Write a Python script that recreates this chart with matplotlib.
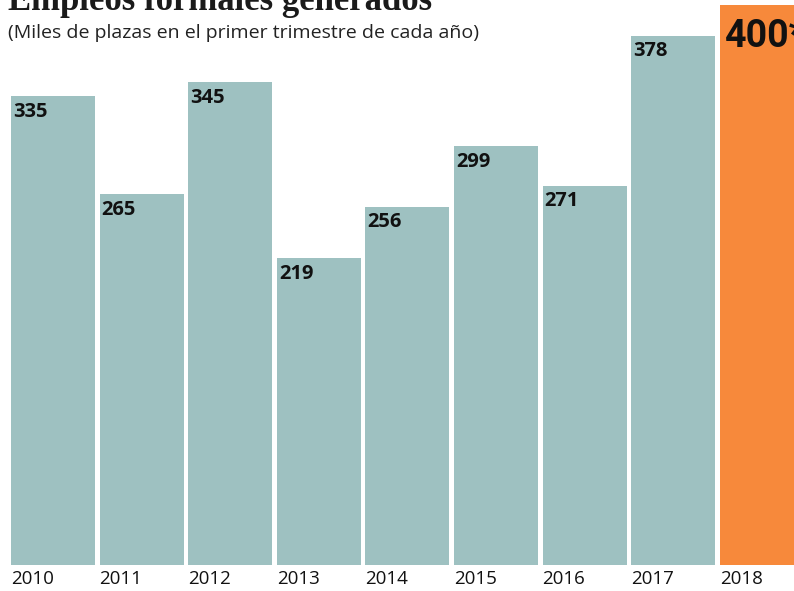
import matplotlib
matplotlib.use("Agg")
import matplotlib.pyplot as plt
from matplotlib import font_manager

# Datos
years = ["2010", "2011", "2012", "2013", "2014", "2015", "2016", "2017", "2018"]
values = [335, 265, 345, 219, 256, 299, 271, 378, 400]
labels = ["335", "265", "345", "219", "256", "299", "271", "378", "400*"]

teal = "#9ec1c1"
orange = "#f7893b"
colors = [teal] * 8 + [orange]

# fuente estrecha para el "400*" si existe
try:
    font_manager.findfont("Liberation Sans Narrow", fallback_to_default=False)
    big_family, big_size = "Liberation Sans Narrow", 31
except ValueError:
    big_family, big_size = "Roboto", 27

fig = plt.figure(figsize=(7.94, 5.91), dpi=100)
# ejes: de y=565 px (cero) hasta el borde superior
ax = fig.add_axes([0, 26 / 591, 1, 565 / 591])
ax.set_ylim(0, 403.6)
ax.set_xlim(-0.598, 8.363)

x = list(range(len(years)))
width = 0.95
ax.bar(x, values, width=width, color=colors, edgecolor="none")

for i, (v, lab) in enumerate(zip(values, labels)):
    left = i - width / 2
    if i == len(years) - 1:
        ax.annotate(lab, (left, v), xytext=(4, -9), textcoords="offset points",
                    ha="left", va="top", fontsize=big_size, fontweight="bold",
                    family=big_family, color="#111111")
    else:
        ax.annotate(lab, (left, v), xytext=(1.5, -4), textcoords="offset points",
                    ha="left", va="top", fontsize=14.5, fontweight="bold",
                    family="Open Sans", color="#111111")
    ax.text(left, -3.5, years[i], ha="left", va="top", fontsize=13.5,
            family="Open Sans", color="#111111")

for s in ax.spines.values():
    s.set_visible(False)
ax.set_xticks([])
ax.set_yticks([])

# título (cortado en la parte superior) y subtítulo
fig.text(8 / 794, 1 - 10 / 591, "Empleos formales generados", ha="left",
         va="baseline", fontsize=25, fontweight="bold", family="Liberation Serif",
         color="#1a1a1a")
fig.text(8 / 794, 1 - 33 / 591, "(Miles de plazas en el primer trimestre de cada año)",
         ha="left", va="center", fontsize=14, family="Open Sans", color="#222222")

fig.savefig("out.png", dpi=100)
